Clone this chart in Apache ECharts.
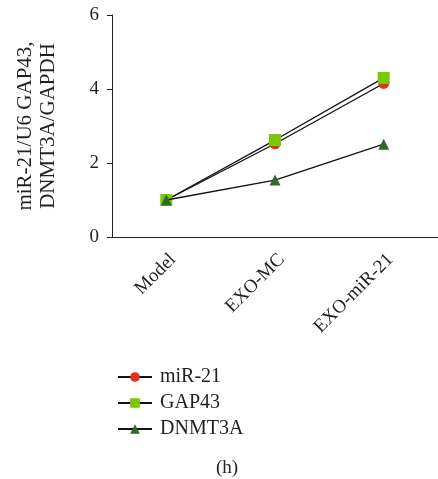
<!DOCTYPE html>
<html>
<head>
<meta charset="utf-8">
<script src="https://cdn.jsdelivr.net/npm/echarts@6/dist/echarts.min.js"></script>
<style>
  html, body { margin: 0; padding: 0; background: #fff; }
  #chart { width: 438px; height: 479px; }
</style>
</head>
<body>
<div id="chart"></div>
<script>
// data
const groups = ['Model', 'EXO-MC', 'EXO-miR-21'];
const mir21 = [1.0, 2.52, 4.15];
const gap43 = [1.0, 2.62, 4.30];
const dnmt3a = [1.0, 1.54, 2.51];

const FONT = 'Liberation Serif';
const INK = '#231f20';
const chart = echarts.init(document.getElementById('chart'));

const option = {
    animation: false,
    textStyle: { fontFamily: FONT, color: INK },
    grid: { left: 112, right: -7, top: 15, bottom: 242, containLabel: false },
    legend: {
        orient: 'vertical',
        left: 112,
        top: 362,
        itemWidth: 34,
        itemHeight: 12,
        itemGap: 6,
        textStyle: { fontFamily: FONT, fontSize: 20, color: INK, padding: [0, 0, 0, 3] },
        data: ['miR-21', 'GAP43', 'DNMT3A']
    },
    xAxis: {
        type: 'category',
        data: groups,
        boundaryGap: true,
        axisLine: { lineStyle: { color: INK, width: 1 } },
        axisTick: { alignWithLabel: true, length: 5, lineStyle: { color: INK } },
        axisLabel: { rotate: 45, fontFamily: FONT, fontSize: 19, color: INK, margin: 13, verticalAlign: 'top' }
    },
    yAxis: {
        type: 'value',
        min: 0, max: 6, interval: 2,
        name: 'miR-21/U6 GAP43,\nDNMT3A/GAPDH',
        nameLocation: 'middle',
        nameRotate: 90,
        nameGap: 52,
        nameTextStyle: { fontFamily: FONT, fontSize: 21, color: INK, lineHeight: 23 },
        axisLine: { show: true, lineStyle: { color: INK, width: 1 } },
        axisTick: { show: true, length: 5, lineStyle: { color: INK } },
        axisLabel: { fontFamily: FONT, fontSize: 19, color: INK, margin: 13 },
        splitLine: { show: false }
    },
    series: [
        {
            name: 'miR-21', type: 'line', data: mir21, z: 2,
            symbol: 'circle', symbolSize: 11,
            lineStyle: { color: '#111', width: 1.3 },
            itemStyle: { color: '#e3301f' }
        },
        {
            name: 'GAP43', type: 'line', data: gap43, z: 3,
            symbol: 'rect', symbolSize: 12,
            lineStyle: { color: '#111', width: 1.3 },
            itemStyle: { color: '#7cc800' }
        },
        {
            name: 'DNMT3A', type: 'line', data: dnmt3a, z: 4,
            symbol: 'triangle', symbolSize: 11,
            lineStyle: { color: '#111', width: 1.3 },
            itemStyle: { color: '#2b6b2a' }
        }
    ],
    graphic: [{
        type: 'text', left: 216, top: 459,
        style: { text: '(h)', font: '19px "Liberation Serif"', fill: INK }
    }]
};

chart.setOption(option);
</script>
</body>
</html>
